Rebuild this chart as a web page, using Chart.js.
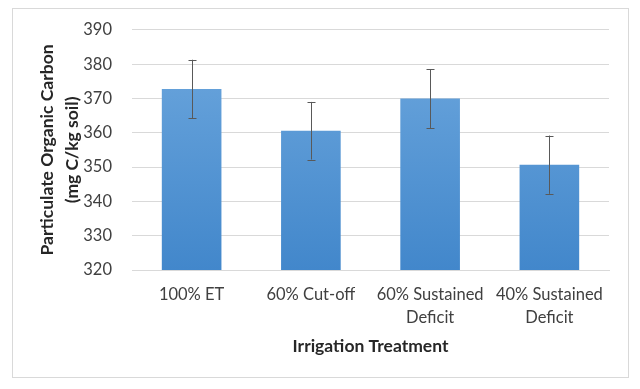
<!DOCTYPE html>
<html>
<head>
<meta charset="utf-8">
<script src="https://cdn.jsdelivr.net/npm/chart.js@4/dist/chart.umd.min.js"></script>
<style>
  html, body { margin: 0; padding: 0; background: #fff; }
  #wrap { width: 640px; height: 389px; position: relative; }
</style>
</head>
<body>
<div id="wrap"><canvas id="c" width="640" height="389"></canvas></div>
<script>
const categories = [["100% ET"], ["60% Cut-off"], ["60% Sustained", "Deficit"], ["40% Sustained", "Deficit"]];
const values = [372.8, 360.6, 370.0, 350.7];
const errors = [8.5, 8.4, 8.6, 8.5];
const yMin = 320, yMax = 390, yStep = 10;
const yTitle = ["Particulate Organic Carbon", "(mg C/kg soil)"];
const xTitle = "Irrigation Treatment";

const FONT = "Lato, 'Open Sans', sans-serif";

const frame = {
  id: 'frame',
  beforeDraw(chart) {
    const ctx = chart.ctx;
    ctx.save();
    ctx.fillStyle = '#ffffff';
    ctx.fillRect(0, 0, chart.width, chart.height);
    ctx.strokeStyle = '#d9d9d9';
    ctx.lineWidth = 1;
    ctx.strokeRect(12.5, 8.5, 616, 369);
    ctx.restore();
  }
};

const errorBars = {
  id: 'errorBars',
  afterDatasetsDraw(chart) {
    const ctx = chart.ctx;
    const meta = chart.getDatasetMeta(0);
    const y = chart.scales.y;
    ctx.save();
    ctx.strokeStyle = '#595959';
    ctx.lineWidth = 1;
    meta.data.forEach((bar, i) => {
      const x = Math.round(bar.x) + 0.5;
      const top = y.getPixelForValue(values[i] + errors[i]);
      const bot = y.getPixelForValue(values[i] - errors[i]);
      ctx.beginPath();
      ctx.moveTo(x, top); ctx.lineTo(x, bot);
      ctx.moveTo(x - 4, Math.round(top) + 0.5); ctx.lineTo(x + 4, Math.round(top) + 0.5);
      ctx.moveTo(x - 4, Math.round(bot) + 0.5); ctx.lineTo(x + 4, Math.round(bot) + 0.5);
      ctx.stroke();
    });
    ctx.restore();
  }
};

new Chart(document.getElementById('c'), {
  type: 'bar',
  data: {
    labels: categories,
    datasets: [{
      data: values,
      backgroundColor: (c) => {
        const area = c.chart.chartArea;
        if (!area) return '#5b9bd5';
        const g = c.chart.ctx.createLinearGradient(0, area.top, 0, area.bottom);
        g.addColorStop(0, 'rgb(110,168,222)');
        g.addColorStop(1, 'rgb(66,135,203)');
        return g;
      },
      borderWidth: 0,
      barPercentage: 0.5,
      categoryPercentage: 1.0
    }]
  },
  options: {
    responsive: false,
    animation: false,
    devicePixelRatio: 1,
    layout: { padding: { left: 0, right: 31, top: 28, bottom: 0 } },
    plugins: { legend: { display: false }, tooltip: { enabled: false } },
    scales: {
      x: {
        grid: { display: false, drawTicks: false },
        border: { display: true, color: '#d9d9d9' },
        ticks: {
          color: '#404040',
          font: { family: FONT, size: 16.5, lineHeight: 1.35 },
          padding: 14,
          maxRotation: 0,
          autoSkip: false
        },
        title: {
          display: true,
          text: xTitle,
          color: '#262626',
          font: { family: FONT, size: 17.5, weight: 'bold' },
          padding: { top: 0, bottom: 32 }
        },
        afterFit(s) { s.height = 119; }
      },
      y: {
        min: yMin, max: yMax,
        grid: { color: '#d9d9d9', drawTicks: false },
        border: { display: false },
        ticks: {
          stepSize: yStep,
          color: '#404040',
          font: { family: FONT, size: 16.5 },
          padding: 20
        },
        title: {
          display: true,
          text: yTitle,
          color: '#262626',
          font: { family: FONT, size: 17.5, weight: 'bold', lineHeight: 1.43 },
          padding: { top: 35, bottom: 0 }
        },
        afterFit(s) { s.width = 132; }
      }
    }
  },
  plugins: [frame, errorBars]
});
</script>
</body>
</html>
